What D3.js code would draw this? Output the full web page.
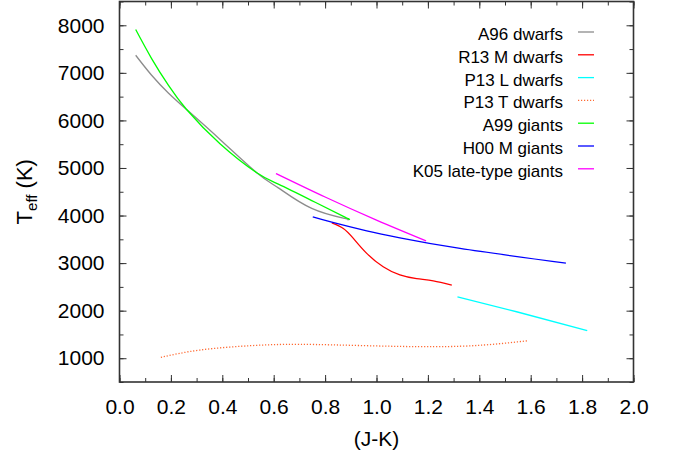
<!DOCTYPE html>
<html>
<head>
<meta charset="utf-8">
<script src="https://cdn.jsdelivr.net/npm/d3@7"></script>
<style>
  body { margin: 0; background: #fff; }
  text { font-family: "Liberation Sans", Arial, Helvetica, sans-serif; fill: #000; }
</style>
</head>
<body>
<script>
// Colour (J-K) vs effective temperature relations
var a96JK = [0.063, 0.125, 0.19, 0.261, 0.391, 0.534, 0.618, 0.748, 0.877, 0.886];
var a96T  = [7370, 6950, 6578, 6229, 5600, 4900, 4582, 4149, 3939, 3915];

var r13JK = [0.826, 0.871, 0.91, 0.962, 1.026, 1.091, 1.156, 1.221, 1.293];
var r13T  = [3847, 3729, 3519, 3204, 2922, 2750, 2672, 2628, 2538];

var p13lJK = [1.315, 1.545, 1.82];
var p13lT  = [2292, 1977, 1578];

var p13tJK = [0.161, 0.313, 0.508, 0.702, 0.962, 1.221, 1.416, 1.591];
var p13tT  = [1019, 1172, 1263, 1292, 1263, 1242, 1277, 1368];

var a99JK = [0.063, 0.125, 0.19, 0.261, 0.391, 0.534, 0.618, 0.748, 0.877, 0.89];
var a99T  = [7910, 7300, 6740, 6229, 5510, 4900, 4660, 4315, 3965, 3935];

var h00JK = [0.752, 0.826, 0.962, 1.091, 1.325, 1.737];
var h00T  = [3973, 3862, 3678, 3530, 3308, 3000];

var k05JK = [0.609, 0.8, 1.0, 1.193];
var k05T  = [4884, 4390, 3905, 3468];

var seriesNames = ["A96 dwarfs", "R13 M dwarfs", "P13 L dwarfs", "P13 T dwarfs",
                   "A99 giants", "H00 M giants", "K05 late-type giants"];
var seriesColors = ["#8c8c8c", "#ff0000", "#00ffff", "#ff6a33", "#00ff00", "#0000ff", "#ff00ff"];

var xMajor = [0, 0.2, 0.4, 0.6, 0.8, 1.0, 1.2, 1.4, 1.6, 1.8, 2.0];
var yMajor = [1000, 2000, 3000, 4000, 5000, 6000, 7000, 8000];

var width = 675, height = 459;
var margins = {top: 1.5, right: 41.5, bottom: 77, left: 119.5};

var svg = d3.select("body").append("svg")
  .attr("width", width)
  .attr("height", height);

var x_Scale = d3.scaleLinear().domain([0, 2]).range([margins.left, width - margins.right]);
var y_Scale = d3.scaleLinear().domain([500, 8500]).range([height - margins.bottom, margins.top]);

function zip(xs, ys) {
  return xs.map(function(v, i) { return {jk: v, t: ys[i]}; });
}
var allSeries = [
  zip(a96JK, a96T), zip(r13JK, r13T), zip(p13lJK, p13lT), zip(p13tJK, p13tT),
  zip(a99JK, a99T), zip(h00JK, h00T), zip(k05JK, k05T)
];

// minor and major ticks, all pointing inwards, mirrored on top/right
var xMinor = d3.range(0, 2.001, 0.1);
var yMinor = d3.range(500, 8501, 500);
var x0 = x_Scale.range()[0], x1 = x_Scale.range()[1];
var y0 = y_Scale.range()[0], y1 = y_Scale.range()[1];

function tickStyle(g) {
  g.select(".domain").remove();
  g.selectAll("line").attr("stroke", "#333").attr("stroke-width", 1);
}

svg.append("g").attr("transform", `translate(0,${y0})`)
  .call(d3.axisBottom(x_Scale).tickValues(xMinor).tickSize(-4).tickFormat("")).call(tickStyle);
svg.append("g").attr("transform", `translate(0,${y1})`)
  .call(d3.axisTop(x_Scale).tickValues(xMinor).tickSize(-4).tickFormat("")).call(tickStyle);
svg.append("g").attr("transform", `translate(${x0},0)`)
  .call(d3.axisLeft(y_Scale).tickValues(yMinor).tickSize(-4).tickFormat("")).call(tickStyle);
svg.append("g").attr("transform", `translate(${x1},0)`)
  .call(d3.axisRight(y_Scale).tickValues(yMinor).tickSize(-4).tickFormat("")).call(tickStyle);

var xAxis = svg.append("g").attr("transform", `translate(0,${y0})`)
  .call(d3.axisBottom(x_Scale).tickValues(xMajor).tickSize(-7).tickPadding(17).tickFormat(d3.format(".1f")));
xAxis.call(tickStyle);
xAxis.selectAll("text").style("font-size", "21px");

svg.append("g").attr("transform", `translate(0,${y1})`)
  .call(d3.axisTop(x_Scale).tickValues(xMajor).tickSize(-7).tickFormat("")).call(tickStyle);

var yAxis = svg.append("g").attr("transform", `translate(${x0},0)`)
  .call(d3.axisLeft(y_Scale).tickValues(yMajor).tickSize(-7).tickPadding(15).tickFormat(d3.format("d")));
yAxis.call(tickStyle);
yAxis.selectAll("text").style("font-size", "21px");

svg.append("g").attr("transform", `translate(${x1},0)`)
  .call(d3.axisRight(y_Scale).tickValues(yMajor).tickSize(-7).tickFormat("")).call(tickStyle);

// frame
svg.append("rect")
  .attr("x", x0).attr("y", y1)
  .attr("width", x1 - x0).attr("height", y0 - y1)
  .attr("fill", "none").attr("stroke", "#333").attr("stroke-width", 1.6);

// curves
var plot_line = d3.line()
  .x(function(d) { return x_Scale(d.jk); })
  .y(function(d) { return y_Scale(d.t); })
  .curve(d3.curveNatural);

allSeries.forEach(function(s, i) {
  svg.append("path")
    .attr("d", plot_line(s))
    .attr("fill", "none")
    .attr("stroke", seriesColors[i])
    .attr("stroke-width", 1.3)
    .style("stroke-dasharray", i === 3 ? "1.2,1.8" : null);
});

// legend
var legend = svg.append("g");
seriesNames.forEach(function(name, i) {
  var yy = 34 + i * 22.8;
  legend.append("text")
    .attr("x", 563).attr("y", yy + 6)
    .attr("text-anchor", "end")
    .style("font-size", "17px")
    .text(name);
  legend.append("line")
    .attr("x1", 578).attr("x2", 594)
    .attr("y1", yy - 2).attr("y2", yy - 2)
    .attr("stroke", seriesColors[i])
    .attr("stroke-width", 1.3)
    .style("stroke-dasharray", i === 3 ? "1.2,1.8" : null);
});

// axis labels
svg.append("text")
  .attr("x", (x0 + x1) / 2).attr("y", 446)
  .attr("text-anchor", "middle")
  .style("font-size", "21px")
  .text("(J-K)");

var yl = svg.append("text")
  .attr("transform", `translate(32,${(y0 + y1) / 2}) rotate(-90)`)
  .attr("text-anchor", "middle")
  .style("font-size", "22px");
yl.append("tspan").text("T");
yl.append("tspan").attr("dy", 5).style("font-size", "15px").text("eff");
yl.append("tspan").attr("dy", -5).text(" (K)");
</script>
</body>
</html>
